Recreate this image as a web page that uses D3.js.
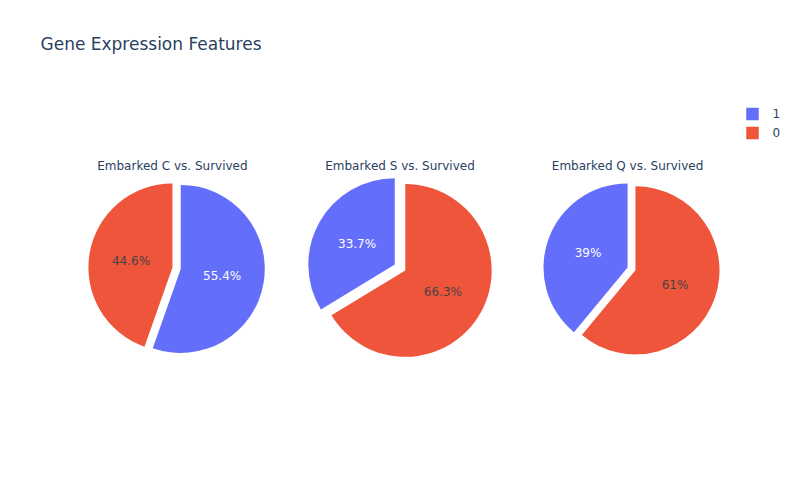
<!DOCTYPE html>
<html>
<head>
<meta charset="utf-8">
<script src="https://cdn.jsdelivr.net/npm/d3@7"></script>
<style>
  html, body { margin: 0; padding: 0; background: #fff; }
  svg { display: block; font-family: "DejaVu Sans", Verdana, sans-serif; }
</style>
</head>
<body>
<svg id="chart" width="800" height="500"></svg>
<script>
// ---- data ----
const chartTitle = "Gene Expression Features";
const subplotTitles = ["Embarked C vs. Survived", "Embarked S vs. Survived", "Embarked Q vs. Survived"];
const sliceLabels = ["1", "0"];
const survivedValues = [55.4, 33.7, 39];   // label "1"
const diedValues = [44.6, 66.3, 61];       // label "0"
const pullSurvived = [0.1, 0.07, 0];
const pullDied = [0, 0.07, 0.1];
const sliceColors = ["#636efa", "#EF553B"];

// ---- layout ----
const W = 800, H = 500;
const plot = { left: 80, right: 720, top: 100, bottom: 420 };
const svg = d3.select("#chart");

svg.append("text")
  .attr("x", 40.5).attr("y", 50)
  .attr("font-size", 17).attr("fill", "#2a3f5f")
  .text(chartTitle);

const nCols = subplotTitles.length;
const hSpace = 0.2 / nCols;
const colW = (1 - (nCols - 1) * hSpace) / nCols;
const xScale = d3.scaleLinear().domain([0, 1]).range([plot.left, plot.right]);
const titleSpace = 15;

const color = d3.scaleOrdinal().domain(sliceLabels).range(sliceColors);

subplotTitles.forEach((title, i) => {
  const data = [
    { label: sliceLabels[0], value: survivedValues[i], pull: pullSurvived[i] },
    { label: sliceLabels[1], value: diedValues[i], pull: pullDied[i] }
  ];
  const x0 = xScale(i * (colW + hSpace)), x1 = xScale(i * (colW + hSpace) + colW);
  const boxW = x1 - x0;
  const boxH = (plot.bottom - plot.top) - titleSpace;
  const maxPull = d3.max(data, d => d.pull);
  const r = Math.min(boxW, boxH) / (2 + 2 * maxPull);
  const cx = (x0 + x1) / 2;
  const cy = (plot.top + plot.bottom) / 2 + titleSpace / 2;
  const total = d3.sum(data, d => d.value);

  const pie = d3.pie().value(d => d.value).sort((a, b) => b.value - a.value);
  const arcs = pie(data);
  const arc = d3.arc().innerRadius(0).outerRadius(r);

  const g = svg.append("g").attr("transform", `translate(${cx},${cy})`);

  arcs.forEach(a => {
    const mid = (a.startAngle + a.endAngle) / 2;
    const dx = Math.sin(mid) * a.data.pull * r;
    const dy = -Math.cos(mid) * a.data.pull * r;
    const sg = g.append("g").attr("transform", `translate(${dx},${dy})`);
    sg.append("path").attr("d", arc(a)).attr("fill", color(a.data.label));
    const pct = +(a.data.value / total * 100).toPrecision(3);
    const tr = r * 0.5;
    sg.append("text")
      .attr("x", Math.sin(mid) * tr)
      .attr("y", -Math.cos(mid) * tr)
      .attr("dy", "0.35em")
      .attr("text-anchor", "middle")
      .attr("font-size", 12)
      .attr("fill", a.data.label === "1" ? "#ffffff" : "#444444")
      .text(pct + "%");
  });

  svg.append("text")
    .attr("x", cx).attr("y", cy - r * (1 + maxPull) - 5)
    .attr("text-anchor", "middle")
    .attr("font-size", 12).attr("fill", "#2a3f5f")
    .text(title);
});

// legend
const legend = svg.append("g").attr("transform", "translate(752.5,114)");
sliceLabels.forEach((lab, j) => {
  const lg = legend.append("g").attr("transform", `translate(0,${j * 19})`);
  lg.append("rect").attr("x", -6).attr("y", -6).attr("width", 12).attr("height", 12)
    .attr("fill", color(lab)).attr("stroke", color(lab)).attr("stroke-opacity", 0.5).attr("stroke-width", 1);
  lg.append("text").attr("x", 20).attr("y", 0).attr("dy", "0.35em")
    .attr("font-size", 12).attr("fill", "#2a3f5f").text(lab);
});
</script>
</body>
</html>
